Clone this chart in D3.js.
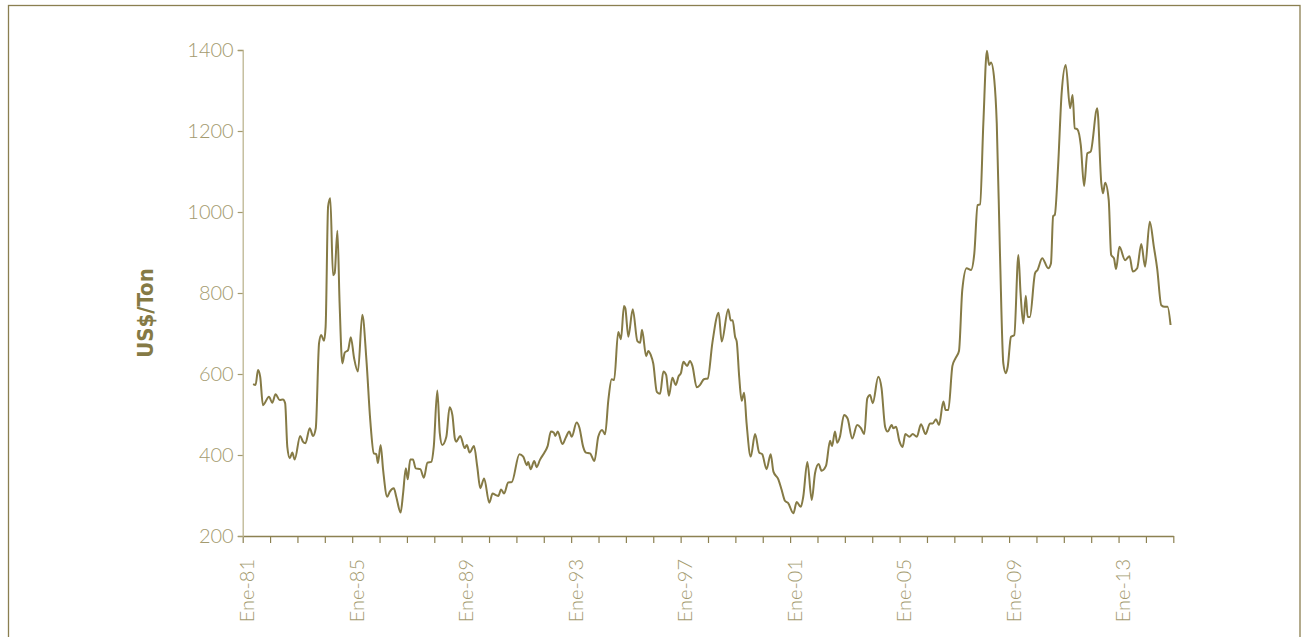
<!DOCTYPE html>
<body style="margin:0;background:#fff">
<svg width="1301" height="637"></svg>
</body>
<style type="text/css">
  .tick text { font-family: Lato, "Open Sans", sans-serif; font-weight: 300; }
</style>
<script src="https://d3js.org/d3.v7.min.js"></script>
<script>

// fecha como año decimal, precio en US$/Ton
var years = [
  1981.38,1981.47,1981.56,1981.64,1981.74,1981.96,1982.08,1982.2,1982.35,1982.47,1982.55,1982.63,1982.72,1982.81,1982.9,
  1983.1,1983.2,1983.29,1983.45,1983.57,1983.67,1983.79,1983.87,1983.97,1984.03,1984.12,1984.2,1984.3,1984.36,1984.46,
  1984.54,1984.64,1984.73,1984.85,1984.95,1985.07,1985.21,1985.37,1985.52,1985.66,1985.79,1985.88,1985.94,1986.04,1986.13,
  1986.28,1986.37,1986.52,1986.61,1986.77,1986.86,1986.96,1987.03,1987.12,1987.22,1987.32,1987.49,1987.62,1987.75,1987.89,
  1987.98,1988.11,1988.2,1988.29,1988.44,1988.56,1988.66,1988.75,1988.8,1988.95,1989.11,1989.19,1989.29,1989.45,1989.57,
  1989.68,1989.82,1990.01,1990.13,1990.25,1990.34,1990.44,1990.55,1990.7,1990.83,1991.11,1991.25,1991.38,1991.43,1991.52,
  1991.65,1991.74,1991.86,1992.04,1992.14,1992.26,1992.37,1992.42,1992.51,1992.68,1992.81,1992.93,1993.02,1993.2,1993.3,
  1993.44,1993.54,1993.69,1993.85,1993.99,1994.13,1994.24,1994.36,1994.48,1994.57,1994.72,1994.82,1994.93,1994.98,1995.09,
  1995.25,1995.42,1995.52,1995.59,1995.74,1995.82,1995.91,1996.0,1996.13,1996.25,1996.37,1996.47,1996.57,1996.7,1996.82,
  1996.93,1997.01,1997.1,1997.24,1997.34,1997.43,1997.59,1997.71,1997.85,1997.99,1998.16,1998.39,1998.5,1998.74,1998.83,
  1998.9,1998.99,1999.05,1999.14,1999.23,1999.32,1999.41,1999.56,1999.72,1999.87,1999.98,2000.14,2000.29,2000.39,2000.57,
  2000.69,2000.81,2000.93,2001.12,2001.24,2001.39,2001.48,2001.63,2001.79,2001.91,2002.04,2002.15,2002.31,2002.46,2002.53,
  2002.64,2002.72,2002.82,2002.97,2003.1,2003.27,2003.45,2003.58,2003.71,2003.82,2003.92,2004.02,2004.22,2004.34,2004.47,
  2004.56,2004.71,2004.77,2004.87,2004.99,2005.11,2005.21,2005.36,2005.48,2005.63,2005.78,2005.95,2006.11,2006.21,2006.33,
  2006.44,2006.6,2006.68,2006.78,2006.93,2007.05,2007.17,2007.29,2007.45,2007.61,2007.73,2007.85,2007.94,2008.06,2008.19,
  2008.27,2008.34,2008.46,2008.55,2008.67,2008.79,2008.88,2008.95,2009.07,2009.19,2009.34,2009.42,2009.52,2009.61,2009.68,
  2009.76,2009.95,2010.04,2010.21,2010.43,2010.53,2010.61,2010.67,2010.79,2010.92,2011.07,2011.23,2011.32,2011.4,2011.5,
  2011.62,2011.74,2011.86,2011.98,2012.22,2012.37,2012.43,2012.51,2012.64,2012.73,2012.83,2012.91,2013.03,2013.24,2013.4,
  2013.52,2013.68,2013.83,2013.97,2014.14,2014.29,2014.41,2014.56,2014.69,2014.79,2014.9
];

var prices = [
  575,573,610,593,523,544,529,550,536,537,528,420,392,406,389,
  447,433,429,466,447,466,676,696,682,717,1013,1034,844,849,954,
  775,626,653,659,691,639,606,746,635,486,404,402,380,425,363,
  297,309,318,297,258,305,367,340,389,389,367,365,344,381,383,
  420,559,454,425,445,518,499,441,433,447,417,425,406,422,371,
  318,342,282,305,301,299,315,305,332,333,402,396,375,383,365,
  385,370,388,408,422,458,455,447,458,427,444,458,445,480,468,
  420,406,404,385,445,462,451,536,587,585,704,686,768,762,692,
  760,681,677,709,644,657,647,626,556,551,606,598,546,591,573,
  595,602,630,620,632,620,567,573,587,589,677,751,680,760,732,
  733,692,680,593,534,554,478,396,452,406,402,365,402,359,340,
  314,287,281,256,284,272,297,383,289,355,378,361,373,435,422,
  458,430,445,499,490,441,474,467,452,540,548,528,593,565,470,
  458,474,466,470,435,420,452,445,452,445,476,452,478,478,488,
  474,532,511,511,620,640,657,807,861,857,898,1017,1019,1219,1398,
  1363,1369,1326,1219,890,626,602,618,692,696,894,799,725,793,741,
  741,849,857,886,861,873,990,993,1112,1293,1363,1256,1289,1207,1204,
  1165,1064,1145,1149,1256,1071,1046,1072,1030,894,886,859,914,881,891,
  853,861,921,865,976,914,861,770,766,766,721
];

var yTicks = [200, 400, 600, 800, 1000, 1200, 1400];
var labelYears = [1981, 1985, 1989, 1993, 1997, 2001, 2005, 2009, 2013];
var yLabel = "US$/Ton";

var data = years.map(function(y, i) { return {year: y, price: prices[i]}; });

var svg = d3.select("svg");

var olive = "#857a45",
    light = "#a39a6e";

// marco
svg.append("rect")
    .attr("x", 8.5).attr("y", 5.5)
    .attr("width", 1291.5).attr("height", 640)
    .attr("fill", "none")
    .attr("stroke", "#8a7f50")
    .attr("stroke-width", 1.3);

var x = d3.scaleLinear()
    .domain([1981, 2015])
    .range([242.7, 1173.3]);

var y = d3.scaleLinear()
    .domain([200, 1400])
    .range([536, 50]);

// eje x
var xAxis = svg.append("g")
    .attr("transform", "translate(0,536)")
    .call(d3.axisBottom(x)
      .tickValues(d3.range(1981, 2016))
      .tickSize(7)
      .tickSizeOuter(0)
      .tickFormat(function(d) {
        return labelYears.indexOf(d) >= 0 ? "Ene-" + String(d).slice(2) : "";
      }));

xAxis.select(".domain").attr("stroke", "#8c8152").attr("stroke-width", 1.3);
xAxis.selectAll(".tick line").attr("stroke", "#8c8152").attr("stroke-width", 1.2);
xAxis.selectAll(".tick text")
    .attr("transform", "rotate(-90)")
    .attr("text-anchor", "end")
    .attr("x", -23)
    .attr("y", 4)
    .attr("dy", "0.35em")
    .attr("fill", light)
    .attr("font-size", 20);

// eje y
var yAxis = svg.append("g")
    .attr("transform", "translate(242.7,0)")
    .call(d3.axisLeft(y)
      .tickValues(yTicks)
      .tickFormat(d3.format("d"))
      .tickSize(5)
      .tickPadding(4));

yAxis.select(".domain").attr("stroke", "#bdb591").attr("stroke-width", 1.3);
yAxis.selectAll(".tick line").attr("stroke", "#a39a6e").attr("stroke-width", 1.2);
yAxis.selectAll(".tick text")
    .attr("fill", light)
    .attr("font-size", 20);

svg.append("text")
    .attr("transform", "translate(153,313) rotate(-90)")
    .attr("text-anchor", "middle")
    .attr("font-family", "'Liberation Sans Narrow', 'DejaVu Sans Condensed', sans-serif")
    .attr("font-weight", "bold")
    .attr("font-size", 22)
    .attr("fill", olive)
    .text(yLabel);

var line = d3.line()
    .x(function(d) { return x(d.year); })
    .y(function(d) { return y(d.price); })
    .curve(d3.curveMonotoneX);

svg.append("path")
    .datum(data)
    .attr("fill", "none")
    .attr("stroke", olive)
    .attr("stroke-width", 2)
    .attr("d", line);

</script>
